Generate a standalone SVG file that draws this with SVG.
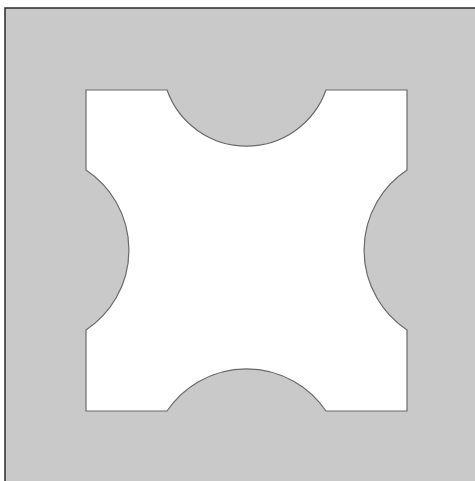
<svg xmlns="http://www.w3.org/2000/svg" width="475" height="481" viewBox="0 0 475 481">
<style>
.frame{fill:#c9c9c9;stroke:#2a2a2a;stroke-width:1.5}
.tile{fill:#ffffff;stroke:#6a6a6a;stroke-width:1.2}
</style>
<rect width="475" height="481" fill="#ffffff"/>
<g id="frame"><rect class="frame" x="5" y="8" width="475" height="480"/></g>
<g id="tile"><path class="tile" d="M86,90 H167 A84.4,84.4 0 0 0 326,90 H407 V170 A96,96 0 0 0 407,330 V411 H326 A96,96 0 0 0 167,411 H86 V330 A96,96 0 0 0 86,170 Z"/></g>
</svg>
